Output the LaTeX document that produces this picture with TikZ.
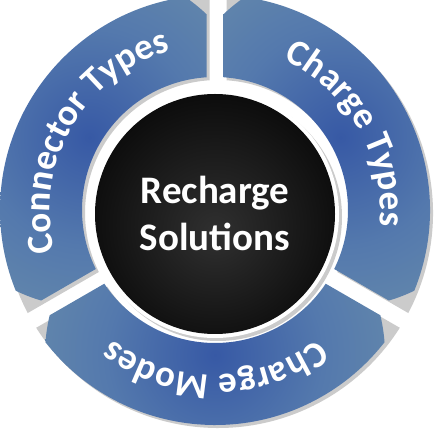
\documentclass[tikz,border=0pt]{standalone}
\usepackage{fontspec}
\setmainfont{Carlito}
\usetikzlibrary{decorations.text}
\definecolor{segdark}{HTML}{3759A5}
\definecolor{segmid}{HTML}{5479AD}
\definecolor{seglight}{HTML}{6A8EAB}
\definecolor{shadowgray}{HTML}{CBCBCB}
\definecolor{hubmid}{HTML}{303030}
\pgfdeclareradialshading{segshade}{\pgfpoint{0bp}{0bp}}{color(0bp)=(segdark); color(16bp)=(segmid); color(34bp)=(seglight); color(50bp)=(seglight)}
\pgfdeclareradialshading{hubshade}{\pgfpoint{0bp}{-4bp}}{color(0bp)=(hubmid); color(36bp)=(black); color(50bp)=(black)}
\newcommand{\segfont}{\bfseries\fontsize{37}{40}\selectfont}
\begin{document}
\begin{tikzpicture}[x=1pt,y=1pt,
  segpath/.style 2 args={insert path={
    ([shift={(ctr)}]#1+2.266:215) arc[start angle=#1+2.266, end angle=#2-2.266, radius=215]
    -- ([shift={(ctr)}]#2-3.664:133) arc[start angle=#2-3.664, end angle=#1+3.664, radius=133] -- cycle}},
  seglabel/.style={decorate, decoration={text along path, text={|\segfont|#1}, text align=center, text color=white}},
  hubtext/.style={text=white, font=\bfseries\fontsize{39}{47}\selectfont, align=center}
]
\useasboundingbox (0,0) rectangle (436,436);
\clip (0,0) rectangle (436,436);
\coordinate (ctr) at (215,226);
\coordinate (hubc) at (215,222);
% shadows of the ring segments
\fill[shadowgray, shift={(3,-3)}, segpath={90}{210}];
\fill[shadowgray, shift={(3,-3)}, segpath={210}{330}];
\fill[shadowgray, shift={(3,-3)}, segpath={-30}{90}];
% Connector Types segment
\begin{scope}
  \clip[segpath={90}{210}];
  \shade[shading=segshade] ([shift={(ctr)}]150:145) circle[radius=170];
\end{scope}
% Charge Modes segment
\begin{scope}
  \clip[segpath={210}{330}];
  \shade[shading=segshade] ([shift={(ctr)}]270:145) circle[radius=170];
\end{scope}
% Charge Types segment
\begin{scope}
  \clip[segpath={-30}{90}];
  \shade[shading=segshade] ([shift={(ctr)}]30:145) circle[radius=170];
\end{scope}
% labels on the ring
\path[seglabel={Connector Types}] ([shift={(ctr)}]210:165) arc[start angle=210, end angle=90, radius=165];
\path[seglabel={Charge Types}] ([shift={(ctr)}]90:165) arc[start angle=90, end angle=-30, radius=165];
\path[seglabel={Charge Modes}] ([shift={(ctr)}]330:165) arc[start angle=330, end angle=210, radius=165];
% hub
\fill[shadowgray] ([shift={(3,-3)}]hubc) circle[radius=124];
\fill[white] (hubc) circle[radius=124];
\shade[shading=hubshade] (hubc) circle[radius=120];
\node[hubtext] (hub) at ([yshift=1]hubc) {Recharge\\Solutions};
\end{tikzpicture}
\end{document}
